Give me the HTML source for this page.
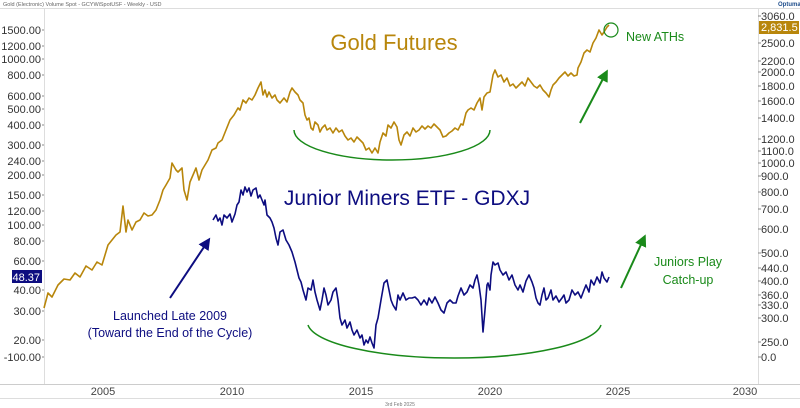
<!DOCTYPE html>
<html><head><meta charset="utf-8"><style>
body{margin:0;background:#fff;}
svg{display:block;font-family:"Liberation Sans",sans-serif;}
</style></head><body>
<svg width="800" height="408" viewBox="0 0 800 408">
<rect width="800" height="408" fill="#fff"/>
<text x="3" y="6" font-size="5.5" fill="#666">Gold (Electronic) Volume Spot - GCYWiSpotUSF - Weekly - USD</text>
<text x="778" y="6" font-size="6" fill="#1f4e8c" font-weight="bold">Optuma</text>
<line x1="0" y1="8.5" x2="800" y2="8.5" stroke="#ddd"/>
<line x1="44.5" y1="9" x2="44.5" y2="384" stroke="#ddd"/>
<line x1="758.5" y1="9" x2="758.5" y2="384" stroke="#ddd"/>
<line x1="0" y1="384.5" x2="800" y2="384.5" stroke="#ccc"/>
<line x1="0" y1="398.5" x2="800" y2="398.5" stroke="#ddd"/>
<g font-size="11" fill="#444" text-anchor="middle">
<text x="103" y="395">2005</text><text x="232" y="395">2010</text><text x="361" y="395">2015</text><text x="490" y="395">2020</text><text x="618" y="395">2025</text><text x="745" y="395">2030</text>
</g>
<text x="400" y="406" font-size="5" fill="#777" text-anchor="middle">3rd Feb 2025</text>
<g stroke="#888" stroke-width="1">
<path d="M42,30h2M42,46h2M42,59h2M42,75h2M42,96h2M42,109h2M42,125h2M42,145h2M42,161h2M42,175h2M42,195h2M42,211h2M42,225h2M42,241h2M42,261h2M42,290h2M42,311h2M42,340h2M42,357h2"/>
<path d="M758,16h3M758,43h3M758,61h3M758,72h3M758,86h3M758,101h3M758,118h3M758,139h3M758,151h3M758,163h3M758,176h3M758,192h3M758,209h3M758,229h3M758,253h3M758,268h3M758,281h3M758,295h3M758,305h3M758,318h3M758,342h3M758,357h3"/>
</g>
<g font-size="11" fill="#333" text-anchor="end">
<text x="41" y="34">1500.00</text><text x="41" y="50">1200.00</text><text x="41" y="63">1000.00</text><text x="41" y="79">800.00</text><text x="41" y="100">600.00</text><text x="41" y="113">500.00</text><text x="41" y="129">400.00</text><text x="41" y="149">300.00</text><text x="41" y="165">240.00</text><text x="41" y="179">200.00</text><text x="41" y="199">150.00</text><text x="41" y="215">120.00</text><text x="41" y="229">100.00</text><text x="41" y="245">80.00</text><text x="41" y="265">60.00</text><text x="41" y="294">40.00</text><text x="41" y="315">30.00</text><text x="41" y="344">20.00</text><text x="41" y="361">-100.00</text>
</g>
<rect x="12" y="270" width="30" height="13" fill="#0d0d80"/>
<text x="40" y="281" font-size="11" fill="#fff" text-anchor="end">48.37</text>
<g font-size="11" fill="#333">
<text x="761" y="20">3060.0</text><text x="761" y="47">2500.0</text><text x="761" y="65">2200.0</text><text x="761" y="76">2000.0</text><text x="761" y="90">1800.0</text><text x="761" y="105">1600.0</text><text x="761" y="122">1400.0</text><text x="761" y="143">1200.0</text><text x="761" y="155">1100.0</text><text x="761" y="167">1000.0</text><text x="761" y="180">900.0</text><text x="761" y="196">800.0</text><text x="761" y="213">700.0</text><text x="761" y="233">600.0</text><text x="761" y="257">500.0</text><text x="761" y="272">440.0</text><text x="761" y="285">400.0</text><text x="761" y="299">360.0</text><text x="761" y="309">330.0</text><text x="761" y="322">300.0</text><text x="761" y="346">250.0</text><text x="761" y="361">0.0</text>
</g>
<rect x="759" y="21" width="40" height="13" fill="#b8860b"/>
<text x="761" y="31" font-size="11" fill="#fff">2,831.5</text>
<polyline fill="none" stroke="#b8860b" stroke-width="1.6" stroke-linejoin="round" points="44,308 48,293 52,297 58,285 64,279 70,280 75,273 80,277 86,266 92,270 97,262 102,265 108,245 112,240 116,235 120,232 123,206 126,232 128,220 132,230 136,222 140,220 144,213 148,216 152,215 156,210 160,200 163,190 166,185 170,178 172,163 176,170 178,172 182,168 184,190 187,200 190,182 193,175 196,168 199,180 202,170 205,165 208,160 212,150 216,148 218,143 222,140 226,130 230,120 234,115 238,108 240,110 243,100 246,103 249,98 252,100 255,95 258,88 261,82 263,95 265,90 267,97 269,92 272,98 275,95 277,100 280,103 284,98 287,102 290,92 292,88 295,92 298,95 300,100 303,103 305,115 307,120 309,118 311,128 313,130 315,122 318,125 320,132 322,128 325,125 327,130 330,128 333,133 336,128 339,132 342,130 345,136 348,140 351,138 354,142 357,137 360,140 363,143 366,150 369,148 372,153 375,148 378,153 380,142 383,133 386,136 388,125 391,128 394,122 397,127 399,140 401,145 404,135 407,132 410,136 413,128 416,132 419,130 422,126 425,129 428,126 431,128 434,124 437,127 440,130 443,137 446,136 449,133 452,131 455,128 458,130 461,124 463,125 466,113 468,110 471,108 474,110 477,103 480,98 482,110 484,97 487,93 490,92 493,75 495,70 498,77 501,75 504,82 507,78 510,86 513,84 516,88 519,85 522,82 525,86 528,78 531,82 534,86 537,88 540,85 543,90 546,93 549,97 551,90 553,85 556,82 559,78 562,75 565,72 568,76 571,73 574,76 577,75 578,68 581,62 584,53 587,50 590,52 593,43 596,38 599,30 602,35 604,32 607,27 609,25"/>
<polyline fill="none" stroke="#0d0d80" stroke-width="1.6" stroke-linejoin="round" points="213,220 216,215 218,221 220,218 222,225 224,215 227,218 230,214 232,222 235,214 237,205 239,202 241,190 243,195 245,187 247,192 249,188 251,196 253,190 256,188 258,198 260,195 262,200 264,205 265,200 267,215 270,218 272,222 274,228 276,238 278,245 280,232 283,230 286,240 289,245 292,252 295,262 297,270 299,278 301,282 303,290 306,300 308,288 311,290 313,280 315,292 317,300 320,310 322,300 324,288 326,295 328,305 331,300 333,292 336,288 338,300 340,318 342,325 345,320 347,328 350,322 352,330 354,335 357,330 360,338 362,335 364,345 366,340 368,343 370,337 372,343 374,348 376,325 378,318 381,300 384,283 387,280 389,290 391,300 393,305 396,310 398,295 400,300 403,293 406,300 409,298 412,298 415,297 418,300 421,305 424,300 427,305 429,298 432,303 435,297 438,303 441,310 444,313 447,303 450,300 453,303 456,303 458,296 461,288 464,295 467,292 470,285 473,288 475,280 477,275 479,285 481,300 483,332 485,310 487,285 488,283 490,290 491,275 493,262 495,265 498,263 500,270 503,275 506,272 509,280 512,275 515,285 518,290 520,285 523,292 526,281 529,275 532,282 534,288 536,298 538,303 540,305 542,295 544,288 546,300 548,298 551,290 553,300 556,296 559,302 562,298 564,295 566,303 569,300 572,290 575,295 578,292 581,298 584,290 586,285 589,292 591,280 594,285 597,277 600,283 602,272 604,278 607,282 609,277"/>
<path d="M294,130 A98,30 0 0 0 490,130" fill="none" stroke="#1a8a1a" stroke-width="1.5"/>
<path d="M308,325 A147,36 0 0 0 601,325" fill="none" stroke="#1a8a1a" stroke-width="1.5"/>
<circle cx="611" cy="30" r="7" fill="none" stroke="#1a8a1a" stroke-width="1.2"/>
<defs>
<marker id="ag" markerWidth="6" markerHeight="6" refX="4" refY="3" orient="auto"><path d="M0,0 L6,3 L0,6 z" fill="#1a8a1a"/></marker>
<marker id="an" markerWidth="6" markerHeight="6" refX="4" refY="3" orient="auto"><path d="M0,0 L6,3 L0,6 z" fill="#0d0d80"/></marker>
</defs>
<line x1="170" y1="298" x2="208" y2="241" stroke="#0d0d80" stroke-width="2" marker-end="url(#an)"/>
<line x1="580" y1="123" x2="606" y2="73" stroke="#1a8a1a" stroke-width="2" marker-end="url(#ag)"/>
<line x1="621" y1="288" x2="644" y2="238" stroke="#1a8a1a" stroke-width="2" marker-end="url(#ag)"/>
<text x="394" y="50" font-size="22" fill="#b8860b" text-anchor="middle">Gold Futures</text>
<text x="407" y="205" font-size="21" fill="#0d0d80" text-anchor="middle">Junior Miners ETF - GDXJ</text>
<text x="626" y="41" font-size="12.5" fill="#1a8a1a">New ATHs</text>
<text x="688" y="266" font-size="12.5" fill="#1a8a1a" text-anchor="middle">Juniors Play</text>
<text x="688" y="284" font-size="12.5" fill="#1a8a1a" text-anchor="middle">Catch-up</text>
<text x="170" y="320" font-size="12.5" fill="#0d0d80" text-anchor="middle">Launched Late 2009</text>
<text x="170" y="337" font-size="12.5" fill="#0d0d80" text-anchor="middle">(Toward the End of the Cycle)</text>
</svg>
</body></html>
